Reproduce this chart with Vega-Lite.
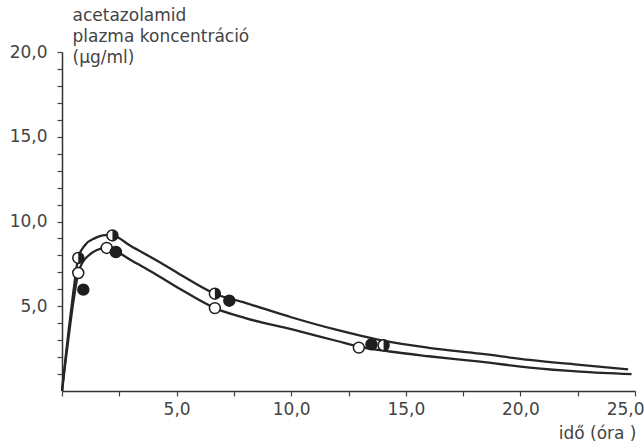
{
  "$schema": "https://vega.github.io/schema/vega-lite/v6.json",
  "width": 573,
  "height": 339,
  "autosize": "none",
  "padding": {"left": 62, "top": 52, "right": 9, "bottom": 53},
  "background": "white",
  "config": {"view": {"stroke": null}, "font": "DejaVu Sans"},
  "datasets": {
    "curves": [
      {"curve": "A", "t": 0, "c": 0}, {"curve": "A", "t": 0.15, "c": 1.9}, {"curve": "A", "t": 0.3, "c": 3.7},
      {"curve": "A", "t": 0.5, "c": 5.9}, {"curve": "A", "t": 0.71, "c": 7.85}, {"curve": "A", "t": 1.0, "c": 8.6},
      {"curve": "A", "t": 1.44, "c": 9.02}, {"curve": "A", "t": 1.88, "c": 9.2}, {"curve": "A", "t": 2.2, "c": 9.18},
      {"curve": "A", "t": 3.0, "c": 8.55}, {"curve": "A", "t": 4.0, "c": 7.8}, {"curve": "A", "t": 5.15, "c": 6.88},
      {"curve": "A", "t": 6.67, "c": 5.74}, {"curve": "A", "t": 8.0, "c": 5.2}, {"curve": "A", "t": 10.0, "c": 4.35},
      {"curve": "A", "t": 12.0, "c": 3.6}, {"curve": "A", "t": 14.0, "c": 2.97}, {"curve": "A", "t": 16.0, "c": 2.55},
      {"curve": "A", "t": 18.25, "c": 2.2}, {"curve": "A", "t": 20.4, "c": 1.83}, {"curve": "A", "t": 22.6, "c": 1.54},
      {"curve": "A", "t": 24.7, "c": 1.28},
      {"curve": "B", "t": 0, "c": 0}, {"curve": "B", "t": 0.15, "c": 1.7}, {"curve": "B", "t": 0.3, "c": 3.3},
      {"curve": "B", "t": 0.5, "c": 5.3}, {"curve": "B", "t": 0.71, "c": 6.96}, {"curve": "B", "t": 0.9, "c": 7.6},
      {"curve": "B", "t": 1.15, "c": 7.98}, {"curve": "B", "t": 1.5, "c": 8.3}, {"curve": "B", "t": 1.95, "c": 8.44},
      {"curve": "B", "t": 2.35, "c": 8.25}, {"curve": "B", "t": 3.0, "c": 7.73}, {"curve": "B", "t": 4.0, "c": 6.96},
      {"curve": "B", "t": 5.15, "c": 6.02}, {"curve": "B", "t": 6.67, "c": 4.89}, {"curve": "B", "t": 8.0, "c": 4.3},
      {"curve": "B", "t": 10.0, "c": 3.65}, {"curve": "B", "t": 12.0, "c": 2.95}, {"curve": "B", "t": 12.95, "c": 2.62},
      {"curve": "B", "t": 14.3, "c": 2.33}, {"curve": "B", "t": 16.0, "c": 2.05}, {"curve": "B", "t": 18.25, "c": 1.73},
      {"curve": "B", "t": 20.4, "c": 1.38}, {"curve": "B", "t": 22.6, "c": 1.14}, {"curve": "B", "t": 24.85, "c": 0.99}
    ],
    "points": [
      {"kind": "half", "t": 0.71, "c": 7.85}, {"kind": "half", "t": 2.2, "c": 9.18},
      {"kind": "half", "t": 6.67, "c": 5.74}, {"kind": "half", "t": 14.03, "c": 2.7},
      {"kind": "open", "t": 0.71, "c": 6.96}, {"kind": "open", "t": 1.95, "c": 8.44},
      {"kind": "open", "t": 6.67, "c": 4.89}, {"kind": "open", "t": 12.95, "c": 2.56},
      {"kind": "filled", "t": 0.93, "c": 5.98}, {"kind": "filled", "t": 2.35, "c": 8.2},
      {"kind": "filled", "t": 7.3, "c": 5.33}, {"kind": "filled", "t": 13.5, "c": 2.75}
    ]
  },
  "encoding": {
    "x": {
      "field": "t", "type": "quantitative",
      "scale": {"domain": [0, 25], "nice": false, "zero": false},
      "axis": {
        "values": [0, 2.5, 5, 7.5, 10, 12.5, 15, 17.5, 20, 22.5, 25],
        "labelExpr": "datum.value % 5 === 0 && datum.value > 0 ? replace(format(datum.value, '.1f'), '.', ',') : ''",
        "grid": false, "tickSize": 5, "labelPadding": 5,
        "labelFont": "DejaVu Sans", "labelFontSize": 17, "labelColor": "#444",
        "labelFlush": true, "labelFlushOffset": 9, "labelOverlap": false,
        "domainColor": "#333", "domainWidth": 1.3, "tickColor": "#444", "tickWidth": 1.2,
        "title": "idő (óra )", "titleX": 574, "titleY": 47, "titleAlign": "right", "titleBaseline": "alphabetic",
        "titleFont": "DejaVu Sans", "titleFontSize": 17, "titleFontWeight": "normal", "titleColor": "#444",
        "encode": {"ticks": {"update": {"y2": {"signal": "datum.value % 5 === 0 ? -7 : -4"}}}}
      }
    },
    "y": {
      "field": "c", "type": "quantitative",
      "scale": {"domain": [0, 20], "nice": false},
      "axis": {
        "values": [1, 2, 3, 4, 5, 6, 7, 8, 9, 10, 11, 12, 13, 14, 15, 16, 17, 18, 19, 20],
        "labelExpr": "datum.value % 5 === 0 && datum.value > 0 ? replace(format(datum.value, '.1f'), '.', ',') : ''",
        "grid": false, "tickSize": 5, "labelPadding": 10,
        "labelFont": "DejaVu Sans", "labelFontSize": 17, "labelColor": "#444",
        "labelFlush": false, "labelOverlap": false,
        "domainColor": "#333", "domainWidth": 1.5, "tickColor": "#444", "tickWidth": 1.2,
        "title": ["acetazolamid", "plazma koncentráció", "(µg/ml)"],
        "titleX": 10, "titleY": -32, "titleAngle": 0, "titleAlign": "left", "titleBaseline": "alphabetic",
        "titleLineHeight": 21,
        "titleFont": "DejaVu Sans", "titleFontSize": 17, "titleFontWeight": "normal", "titleColor": "#444",
        "encode": {"ticks": {"update": {"x2": {"signal": "datum.value % 5 === 0 ? -6 : -3"}}}}
      }
    }
  },
  "layer": [
    {
      "data": {"name": "curves"},
      "mark": {"type": "line", "interpolate": "monotone", "color": "#262626", "strokeWidth": 2.3},
      "encoding": {"detail": {"field": "curve", "type": "nominal"}}
    },
    {
      "data": {"name": "points"},
      "mark": {"type": "point", "shape": "circle", "size": 120, "filled": true, "stroke": "#1e1e1e", "strokeWidth": 1.5, "opacity": 1},
      "encoding": {
        "fill": {"field": "kind", "type": "nominal", "scale": {"domain": ["open", "filled", "half"], "range": ["white", "#1e1e1e", "white"]}, "legend": null}
      }
    },
    {
      "data": {"name": "points"},
      "transform": [{"filter": "datum.kind === 'half'"}],
      "mark": {"type": "point", "shape": "M0,-1A1,1,0,0,1,0,1Z", "size": 120, "filled": true, "fill": "#1e1e1e", "strokeWidth": 0, "opacity": 1}
    }
  ]
}
